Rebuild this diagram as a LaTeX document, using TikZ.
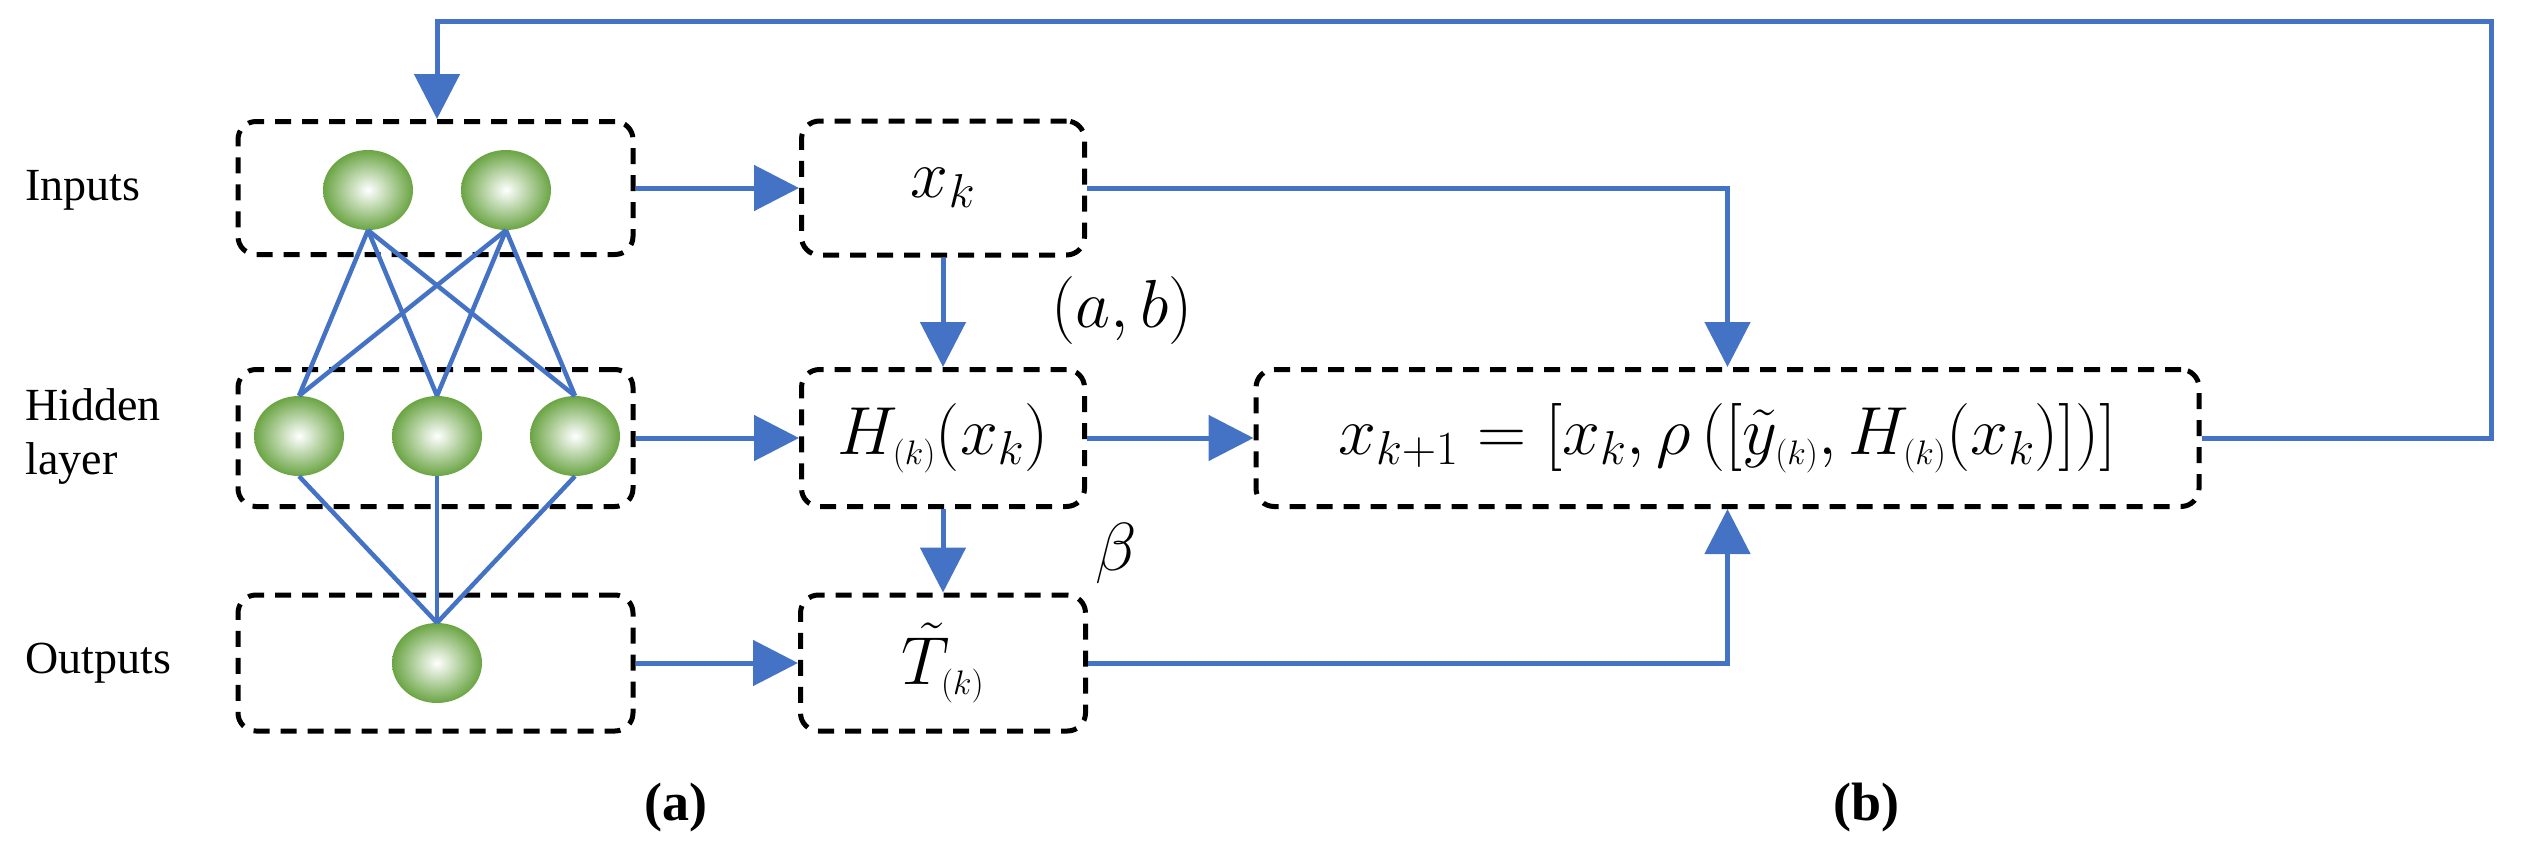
\documentclass[tikz,border=0pt]{standalone}
\usepackage{fix-cm}
\usepackage{fontspec}
\setmainfont{Liberation Serif}
\usetikzlibrary{arrows.meta,shapes.geometric}
\definecolor{lblue}{RGB}{68,114,196}
\definecolor{bgreen}{RGB}{112,173,71}
\begin{document}
\begin{tikzpicture}[x=1pt,y=-1pt,
  box/.style={draw=black,line width=5pt,dash pattern=on 16pt off 11pt,rounded corners=18pt,rectangle,inner sep=0pt},
  ball/.style={ellipse,minimum width=90pt,minimum height=80pt,inner sep=0pt,shading=radial,inner color=white,outer color=bgreen!95!black},
  arr/.style={draw=lblue,line width=5pt,-{Triangle[length=45pt,width=45pt]}},
  ln/.style={draw=lblue,line width=4.5pt},
  lab/.style={font=\fontsize{46}{54}\selectfont,anchor=west,align=left},
  mth/.style={font=\fontsize{68}{78}\selectfont}]
\useasboundingbox (0,0) rectangle (2523,859);
% left boxes
\node[box,minimum width=395pt,minimum height=133pt] (inp) at (435.5,188) {};
\node[box,minimum width=395pt,minimum height=137pt] (hid) at (435.5,438) {};
\node[box,minimum width=395pt,minimum height=136pt] (out) at (435.5,663) {};
% balls
\node[ball] (i1) at (368,190) {};
\node[ball] (i2) at (506,190) {};
\node[ball] (h1) at (299,436) {};
\node[ball] (h2) at (437,436) {};
\node[ball] (h3) at (575,436) {};
\node[ball] (o1) at (437,663) {};
\foreach \a in {i1,i2}\foreach \b in {h1,h2,h3}{\draw[ln] (\a.south) -- (\b.north);}
\foreach \b in {h1,h2,h3}{\draw[ln] (\b.south) -- (o1.north);}
% labels
\node[lab] (l1) at (22,190) {Inputs};
\node[lab] (l2) at (22,436) {Hidden\\layer};
\node[lab] (l3) at (22,663) {Outputs};
% middle boxes
\node[box,mth,minimum width=283pt,minimum height=134pt] (xk) at (943,188) {$x_k$};
\node[box,mth,minimum width=283pt,minimum height=137pt] (hk) at (943,438) {$H_{\scriptscriptstyle(k)}(x_k)$};
\node[box,mth,minimum width=285pt,minimum height=136pt] (tk) at (943,663) {$\tilde{T}_{\scriptscriptstyle(k)}$};
\node[box,mth,minimum width=943pt,minimum height=137pt] (f) at (1727.5,438) {$x_{k+1}=[x_k,\rho\,([\tilde{y}_{\scriptscriptstyle(k)},H_{\scriptscriptstyle(k)}(x_k)])]$};
\node[mth] (ab) at (1122,310) {$(a,b)$};
\node[mth] (be) at (1116,553) {$\beta$};
\node[font=\bfseries\fontsize{54}{60}\selectfont] (la) at (676,808) {(a)};
\node[font=\bfseries\fontsize{54}{60}\selectfont] (lb) at (1866,808) {(b)};
% arrows
\draw[arr] (inp.east) -- (xk.west);
\draw[arr] (hid.east) -- (hk.west);
\draw[arr] (out.east) -- (tk.west);
\draw[arr] (xk.south) -- (hk.north);
\draw[arr] (hk.south) -- (tk.north);
\draw[arr] (hk.east) -- (f.west);
\draw[arr] (xk.east) -| (f.north);
\draw[arr] (tk.east) -| (f.south);
\coordinate (c1) at (2491,438);
\coordinate (c2) at (2491,22);
\coordinate (c3) at (437,22);
\draw[arr,rounded corners=0pt] (f.east) -- (c1) -- (c2) -- (c3) -- (inp.north -| c3);
\end{tikzpicture}
\end{document}
